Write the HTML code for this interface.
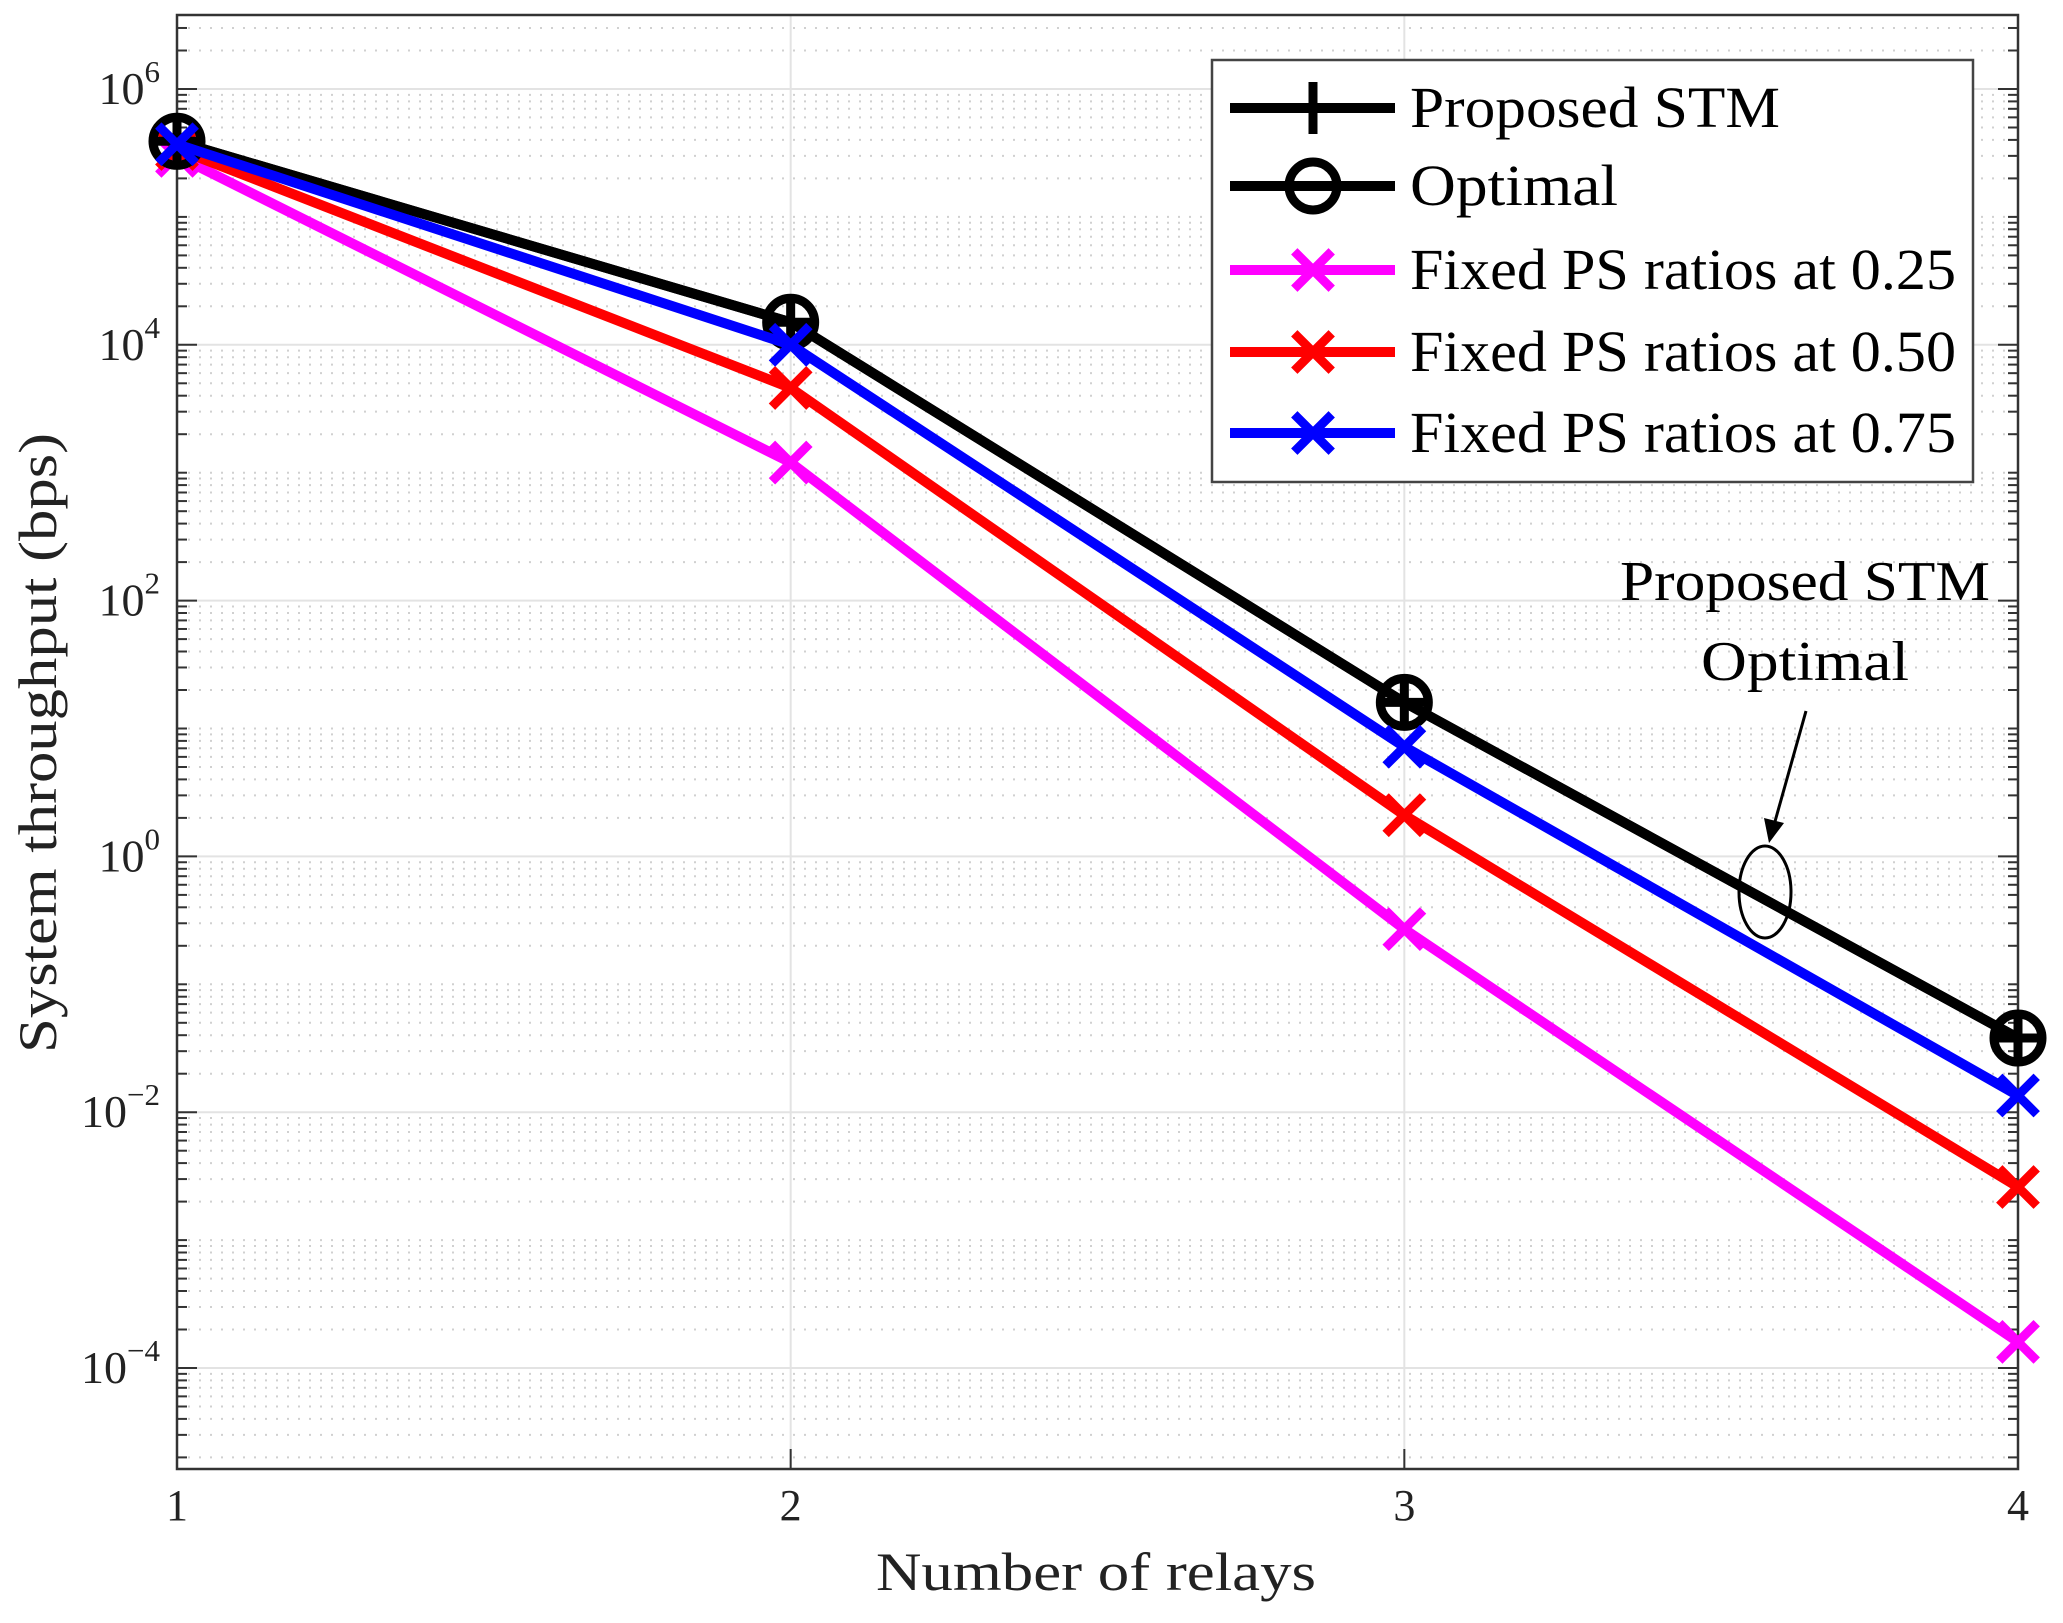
<!DOCTYPE html>
<html><head><meta charset="utf-8"><style>
html,body{margin:0;padding:0;background:#fff;}
svg{display:block;font-family:"Liberation Serif",serif;}
</style></head><body>
<svg id="chart" width="2063" height="1623" viewBox="0 0 2063 1623" xmlns="http://www.w3.org/2000/svg">
<g id="grid"></g>
<g id="axes"></g>
<g id="series"></g>
<g id="legend"></g>
<g id="annot"></g>
</svg>
<script>
const categories = [1, 2, 3, 4];
const proposedSTM = [3.9e5, 1.5e4, 16, 0.038];
const optimal = [3.9e5, 1.5e4, 16, 0.038];
const fixed025 = [3.0e5, 1.2e3, 0.27, 1.6e-4];
const fixed050 = [3.4e5, 4.6e3, 2.1, 0.0026];
const fixed075 = [3.7e5, 1.0e4, 7.2, 0.0135];
const yTickExps = [6, 4, 2, 0, -2, -4];
const xTickLabels = ["1", "2", "3", "4"];

const NS = "http://www.w3.org/2000/svg";
const L = 177, R = 2018, T = 15, B = 1469;
const yMinLog = -4 - (B - 1368) / 127.9, yMaxLog = 6 + (89 - T) / 127.9;
function xs(v) { return L + (v - 1) / 3 * (R - L); }
function ys(v) { const lg = Math.log10(v); return B - (lg - yMinLog) / (yMaxLog - yMinLog) * (B - T); }
function mk(tag, attrs, parent) { const e = document.createElementNS(NS, tag); for (const k in attrs) e.setAttribute(k, attrs[k]); parent.appendChild(e); return e; }

const grid = document.getElementById('grid');
const axes = document.getElementById('axes');
for (let d = Math.floor(yMinLog); d <= Math.ceil(yMaxLog); d++) {
  for (let m = 1; m <= 9; m++) {
    const v = m * Math.pow(10, d); const lg = Math.log10(v);
    if (lg < yMinLog || lg > yMaxLog) continue;
    const y = ys(v);
    if (m === 1 && d % 2 === 0) {
      const g = mk('line', {x1: L, x2: R, y1: y, y2: y, stroke: '#e3e3e3', 'stroke-width': 2}, grid);
      
      
    } else {
      const g = mk('line', {x1: L, x2: R, y1: y, y2: y, stroke: '#d0d0d0', 'stroke-width': 2, 'stroke-dasharray': '2 9'}, grid);
      
      
    }
    const t = mk('line', {x1: L, x2: L + (m === 1 && d % 2 === 0 ? 20 : 10), y1: y, y2: y, stroke: '#333', 'stroke-width': 2}, axes);
    
    
    const t2 = mk('line', {x1: R, x2: R - (m === 1 && d % 2 === 0 ? 20 : 10), y1: y, y2: y, stroke: '#333', 'stroke-width': 2}, axes);
    
    
  }
}
categories.forEach((c, i) => {
  const x = xs(c);
  if (i > 0 && i < categories.length - 1) {
    const g = mk('line', {x1: x, x2: x, y1: T, y2: B, stroke: '#e3e3e3', 'stroke-width': 2}, grid);
    
    
  }
  const t = mk('line', {x1: x, x2: x, y1: B, y2: B - 20, stroke: '#333', 'stroke-width': 2}, axes);
  
  
  const lb = mk('text', {x: x, y: 1520, 'font-size': 44, 'text-anchor': 'middle', fill: '#222'}, axes);
  lb.textContent = xTickLabels[i];
  
  
});
yTickExps.forEach(e => {
  const y = ys(Math.pow(10, e));
  const lb = mk('text', {x: 160, y: y + 15, 'font-size': 46, 'text-anchor': 'end', fill: '#222'}, axes);
  
  
  const t1 = document.createElementNS(NS, 'tspan'); t1.textContent = '10'; lb.appendChild(t1);
  const t2 = document.createElementNS(NS, 'tspan'); t2.setAttribute('dy', '-22'); t2.setAttribute('font-size', '31'); t2.textContent = String(e).replace('-', '\u2212'); lb.appendChild(t2);
});
const frame = mk('rect', {x: L, y: T, width: R - L, height: B - T, fill: 'none', stroke: '#333', 'stroke-width': 2.5}, axes);


const xt = mk('text', {x: 1096, y: 1590, 'font-size': 54, 'text-anchor': 'middle', fill: '#222', textLength: 440, lengthAdjust: 'spacingAndGlyphs'}, axes);
xt.textContent = 'Number of relays';


const yt = mk('text', {x: 0, y: 0, 'font-size': 54, 'text-anchor': 'middle', fill: '#222', transform: 'translate(56,743) rotate(-90)', textLength: 620, lengthAdjust: 'spacingAndGlyphs'}, axes);
yt.textContent = 'System throughput (bps)';



function marker(parent, type, x, y, color, s) {
  if (type === 'o') {
    return mk('circle', {cx: x, cy: y, r: s, fill: 'none', stroke: color, 'stroke-width': 9}, parent);
  } else if (type === '+') {
    return mk('path', {d: `M${x - s},${y}H${x + s}M${x},${y - s}V${y + s}`, stroke: color, 'stroke-width': 9, fill: 'none'}, parent);
  } else {
    const d = s * 0.72;
    return mk('path', {d: `M${x - d},${y - d}L${x + d},${y + d}M${x - d},${y + d}L${x + d},${y - d}`, stroke: color, 'stroke-width': 9, fill: 'none'}, parent);
  }
}
const seriesDefs = [
  {name: 'fixed-025', vals: fixed025, color: '#ff00ff', m: 'x'},
  {name: 'fixed-050', vals: fixed050, color: '#ff0000', m: 'x'},
  {name: 'optimal', vals: optimal, color: '#000000', m: 'o'},
  {name: 'proposed-stm', vals: proposedSTM, color: '#000000', m: '+'},
  {name: 'fixed-075', vals: fixed075, color: '#0000ff', m: 'x'},
];
const sg = document.getElementById('series');
seriesDefs.forEach(s => {
  const g = mk('g', {}, sg);
  
  
  const pts = s.vals.map((v, i) => xs(categories[i]) + ',' + ys(v)).join(' ');
  const pl = mk('polyline', {points: pts, fill: 'none', stroke: s.color, 'stroke-width': 10, 'stroke-linejoin': 'round'}, g);
  
  
  s.vals.forEach((v, i) => {
    const m = marker(g, s.m, xs(categories[i]), ys(v), s.color, s.m === 'o' ? 24 : 26);
    
    
  });
});

const lg = document.getElementById('legend');
const box = mk('rect', {x: 1212, y: 60, width: 761, height: 422, fill: '#fff', stroke: '#444', 'stroke-width': 2.5}, lg);


const legDefs = [
  {t: 'Proposed STM', c: '#000', m: '+', y: 108, w: 370},
  {t: 'Optimal', c: '#000', m: 'o', y: 186, w: 208},
  {t: 'Fixed PS ratios at 0.25', c: '#ff00ff', m: 'x', y: 270, w: 546},
  {t: 'Fixed PS ratios at 0.50', c: '#ff0000', m: 'x', y: 352, w: 546},
  {t: 'Fixed PS ratios at 0.75', c: '#0000ff', m: 'x', y: 433, w: 546},
];
legDefs.forEach(d => {
  const g = mk('g', {}, lg);
  
  
  mk('line', {x1: 1230, x2: 1395, y1: d.y, y2: d.y, stroke: d.c, 'stroke-width': 10}, g);
  marker(g, d.m, 1313, d.y, d.c, d.m === 'o' ? 24 : 26);
  const t = mk('text', {x: 1410, y: d.y + 19, 'font-size': 58, fill: '#000', textLength: d.w, lengthAdjust: 'spacingAndGlyphs'}, g);
  t.textContent = d.t;
});

const an = document.getElementById('annot');
const a1 = mk('text', {x: 1805, y: 600, 'font-size': 56, 'text-anchor': 'middle', fill: '#000', textLength: 370, lengthAdjust: 'spacingAndGlyphs'}, an);
a1.textContent = 'Proposed STM';


const a2 = mk('text', {x: 1805, y: 680, 'font-size': 56, 'text-anchor': 'middle', fill: '#000', textLength: 208, lengthAdjust: 'spacingAndGlyphs'}, an);
a2.textContent = 'Optimal';


const el = mk('ellipse', {cx: 1765, cy: 892, rx: 26, ry: 46, fill: 'none', stroke: '#000', 'stroke-width': 3}, an);


const ar = mk('line', {x1: 1806, y1: 711, x2: 1774, y2: 825, stroke: '#000', 'stroke-width': 3}, an);


const ah = mk('polygon', {points: '1769,843 1764,818 1784,823', fill: '#000'}, an);


</script>
</body></html>
